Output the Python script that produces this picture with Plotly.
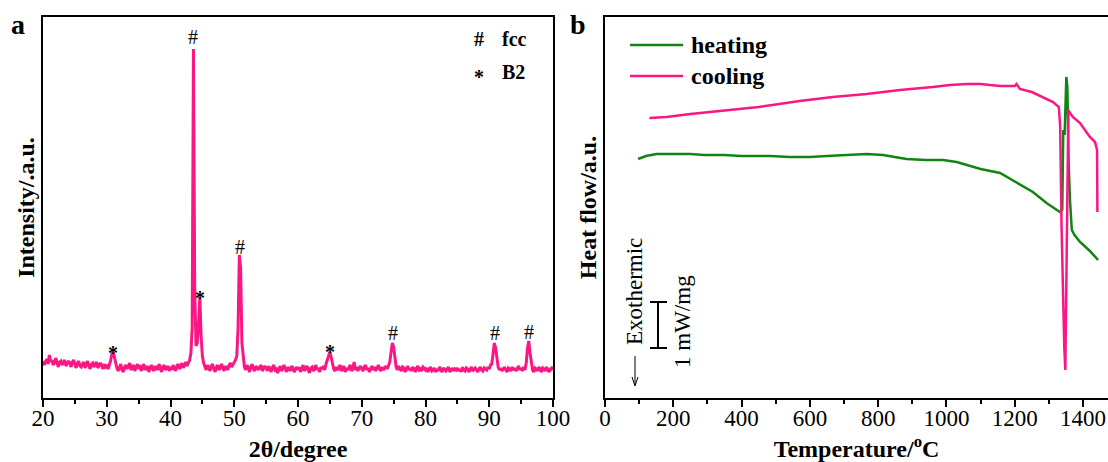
import plotly.graph_objects as go

W, H = 1108, 462

# ---------------- Panel a: XRD pattern ----------------
two_theta_start = 20.0
two_theta_step = 0.2
intensity = [
    37, 33, 36, 39, 34, 43, 36, 38, 33, 35, 40, 34, 31, 36, 37, 33, 35, 38, 32, 34, 37, 35, 31, 36, 38,   # 20.0-24.8
    34, 30, 35, 37, 32, 31, 34, 36, 30, 33, 37, 32, 29, 34, 35, 31, 33, 36, 30, 32, 35, 33, 29, 34, 31,   # 25.0-29.8
    32, 29, 33, 37, 44, 46, 41, 34, 30, 27, 31, 34, 28, 26, 31, 33, 29, 32, 35, 28, 30, 33, 27, 31, 34,   # 30.0-34.8
    29, 33, 27, 31, 34, 28, 30, 32, 26, 31, 33, 29, 27, 32, 30, 28, 34, 29, 26, 31, 33, 28, 30, 32, 27,   # 35.0-39.8
    31, 28, 33, 30, 27, 32, 34, 29, 31, 35, 30, 33, 36, 32, 35, 38, 45, 70, 349, 110, 52, 55, 75, 101, 62,  # 40.0-44.8
    42, 35, 31, 28, 33, 30, 27, 32, 34, 29, 26, 31, 33, 28, 30, 34, 29, 27, 32, 30, 28, 33, 35, 31, 33,   # 45.0-49.8
    35, 38, 42, 70, 143, 130, 55, 38, 31, 28, 33, 30, 26, 31, 34, 29, 27, 32, 30, 28, 31, 33, 27, 30, 32,  # 50.0-54.8
    30, 27, 32, 28, 26, 31, 33, 28, 29, 25, 30, 32, 27, 29, 33, 28, 26, 31, 29, 27, 32, 30, 26, 29, 31,   # 55.0-59.8
    28, 31, 26, 30, 33, 27, 29, 32, 28, 25, 30, 31, 27, 29, 33, 28, 30, 26, 31, 29, 32, 28, 34, 38, 42,   # 60.0-64.8
    46, 41, 33, 29, 27, 31, 28, 30, 33, 27, 29, 32, 26, 30, 28, 31, 33, 27, 29, 36, 28, 31, 27, 30, 32,   # 65.0-69.8
    29, 27, 31, 33, 28, 30, 26, 29, 32, 28, 31, 27, 30, 33, 29, 27, 31, 28, 30, 32, 29, 33, 36, 46, 55,   # 70.0-74.8
    51, 38, 31, 28, 32, 29, 27, 31, 30, 26, 29, 32, 28, 30, 27, 31, 29, 26, 30, 32, 28, 29, 27, 31, 30,   # 75.0-79.8
    28, 30, 26, 29, 31, 27, 28, 30, 26, 29, 27, 31, 28, 26, 30, 28, 27, 29, 31, 26, 28, 30, 27, 29, 28,   # 80.0-84.8
    30, 27, 29, 26, 31, 28, 27, 30, 29, 26, 28, 31, 27, 29, 30, 28, 26, 29, 31, 28, 27, 30, 29, 28, 31,   # 85.0-89.8
    29, 33, 34, 44, 55, 50, 37, 31, 28, 30, 27, 29, 31, 28, 26, 30, 29, 27, 31, 28, 30, 27, 29, 32, 28,   # 90.0-94.8
    30, 27, 31, 28, 35, 50, 57, 45, 33, 28, 26, 30, 29, 27, 31, 28, 26, 30, 29, 27, 31, 28, 26, 29, 30,   # 95.0-99.8
    28,                                                                                                   # 100.0
]
two_theta = [round(two_theta_start + two_theta_step * i, 1) for i in range(len(intensity))]

fcc_peaks = [43.6, 50.9, 74.9, 90.9, 96.2]
fcc_label_y = [361, 151, 65, 65, 66]
b2_peaks = [31.0, 44.6, 65.0]
b2_label_y = [50, 105, 51]

# ---------------- Panel b: DSC curves ----------------
heating_T = [97, 120, 151, 200, 250, 290, 350, 400, 485, 540, 600, 650, 700, 766, 814, 850, 883, 940,
             990, 1030, 1059, 1100, 1157, 1215, 1253, 1293, 1332, 1339, 1342, 1346, 1351, 1354, 1358,
             1362, 1367, 1375, 1391, 1420, 1444]
heating_hf = [238, 241, 243, 243, 243, 242, 242, 241, 241, 240, 240, 241, 242, 243, 242, 240, 238, 237,
              237, 235, 232, 228, 224, 212, 205, 194, 185, 187, 267, 262, 320, 310, 230,
              195, 167, 162, 155, 146, 137]

cooling_T = [130, 180, 250, 374, 450, 570, 667, 766, 864, 960, 1010, 1059, 1100, 1127, 1157, 1190, 1200,
             1205, 1215, 1250, 1283, 1312, 1329, 1333, 1337, 1341, 1345, 1348, 1351, 1354, 1357, 1362,
             1370, 1391, 1420, 1435, 1441, 1442]
cooling_hf = [279, 280, 283, 287, 290, 296, 300, 303, 307, 310, 312, 313, 313, 312, 311, 311, 311,
              313, 308, 305, 300, 295, 290, 270, 170, 100, 50, 27, 120, 230, 287, 284,
              280, 274, 260, 255, 247, 185]

series_names = ['heating', 'cooling']

PINK = '#fa1683'
GREEN = '#118511'
SERIF = 'Liberation Serif'


def px(x):
    return x / W


def py(y):
    return 1 - y / H


fig = go.Figure()

fig.add_trace(go.Scatter(x=two_theta, y=intensity, mode='lines',
                         line=dict(color=PINK, width=3), showlegend=False,
                         xaxis='x', yaxis='y'))
fig.add_trace(go.Scatter(x=heating_T, y=heating_hf, mode='lines', name=series_names[0],
                         line=dict(color=GREEN, width=2.5), xaxis='x2', yaxis='y2',
                         showlegend=False))
fig.add_trace(go.Scatter(x=cooling_T, y=cooling_hf, mode='lines', name=series_names[1],
                         line=dict(color=PINK, width=2.5), xaxis='x2', yaxis='y2',
                         showlegend=False))

ydom = [py(398), py(17)]
tickfont = dict(family=SERIF, size=23, color='black')
titlefont = dict(family=SERIF, size=24, color='black', weight='bold')

common_x = dict(showline=True, linecolor='black', linewidth=1.5, mirror=True,
                ticks='outside', ticklen=7, tickwidth=1.5, tickcolor='black',
                ticklabelstandoff=-8,
                showgrid=False, zeroline=False, tickfont=tickfont, automargin=False)
common_y = dict(showline=True, linecolor='black', linewidth=1.5,
                ticks='', showticklabels=False, showgrid=False, zeroline=False, automargin=False)

fig.update_layout(
    template='none',
    width=W, height=H,
    margin=dict(l=0, r=0, t=0, b=0, pad=0),
    paper_bgcolor='white', plot_bgcolor='white',
    showlegend=False,
    xaxis=dict(domain=[px(43), px(553)], range=[20, 100], tick0=20, dtick=10,
               minor=dict(dtick=5, ticks='outside', ticklen=4, tickwidth=1.5, tickcolor='black'),
               title=dict(text='2θ/degree', font=titlefont, standoff=13), **common_x),
    yaxis=dict(domain=ydom, range=[0, 381], mirror=True,
               title=dict(text='Intensity/.a.u.', font=titlefont, standoff=0), **common_y),
    xaxis2=dict(domain=[px(605), 1.0], range=[0, 1473], tick0=0, dtick=200, anchor='y2',
                minor=dict(dtick=100, ticks='outside', ticklen=4, tickwidth=1.5, tickcolor='black'),
                title=dict(text='Temperature/<sup>o</sup>C', font=titlefont, standoff=10), **common_x),
    yaxis2=dict(domain=ydom, range=[-1, 380], anchor='x2', mirror=False,
                title=dict(text='Heat flow/a.u.', font=titlefont, standoff=0), **common_y),
)

annotations = []
for xv, yv in zip(fcc_peaks, fcc_label_y):
    annotations.append(dict(x=xv, y=yv, xref='x', yref='y', text='#', showarrow=False,
                            font=dict(family=SERIF, size=20, color='black'),
                            xanchor='center', yanchor='middle'))
for xv, yv in zip(b2_peaks, b2_label_y):
    annotations.append(dict(x=xv, y=yv, xref='x', yref='y', text='*', showarrow=False, yshift=-5,
                            font=dict(family=SERIF, size=20, color='black', weight='bold'),
                            xanchor='center', yanchor='middle'))


def paper_text(x, y, text, font, xanchor='center', yshift=0, textangle=0):
    return dict(x=px(x), y=py(y), xref='paper', yref='paper', text=text, showarrow=False,
                font=font, xanchor=xanchor, yanchor='middle', yshift=yshift, textangle=textangle)


boldf = dict(family=SERIF, size=20, color='black', weight='bold')
legf = dict(family=SERIF, size=24, color='black', weight='bold')
plainf = dict(family=SERIF, size=23, color='black')
letterf = dict(family=SERIF, size=28, color='black', weight='bold')

annotations += [
    paper_text(479, 39, '#', boldf),
    paper_text(500, 39, 'fcc', boldf, xanchor='left'),
    paper_text(479, 72, '*', boldf, yshift=-5),
    paper_text(500, 72, 'B2', boldf, xanchor='left'),
    paper_text(18, 24, 'a', letterf),
    paper_text(578, 24, 'b', letterf),
    paper_text(689, 45, series_names[0], legf, xanchor='left'),
    paper_text(689, 76, series_names[1], legf, xanchor='left'),
    paper_text(634, 292, 'Exothermic', plainf, textangle=-90),
    paper_text(682, 322, '1 mW/mg', plainf, textangle=-90),
]
fig.update_layout(annotations=annotations)


def paper_line(x0, y0, x1, y1, color='black', width=2):
    return dict(type='line', xref='paper', yref='paper', x0=px(x0), x1=px(x1),
                y0=py(y0), y1=py(y1), line=dict(color=color, width=width))


arrow_head = 'M {:.5f} {:.5f} L {:.5f} {:.5f} L {:.5f} {:.5f}'.format(
    px(632), py(377), px(635), py(386), px(638), py(377))

shapes = [
    paper_line(630, 45, 683, 45, GREEN, 2.5),
    paper_line(630, 76, 683, 76, PINK, 2.5),
    paper_line(658, 302, 658, 348),
    paper_line(650, 302, 667, 302),
    paper_line(650, 348, 667, 348),
    paper_line(635, 356, 635, 385, width=1),
    dict(type='path', xref='paper', yref='paper', path=arrow_head,
         line=dict(color='black', width=1)),
]
fig.update_layout(shapes=shapes)

fig.write_html('out.html', config={'responsive': False, 'displayModeBar': False},
               post_script="document.body.style.margin='0px';document.body.style.overflow='hidden';")
